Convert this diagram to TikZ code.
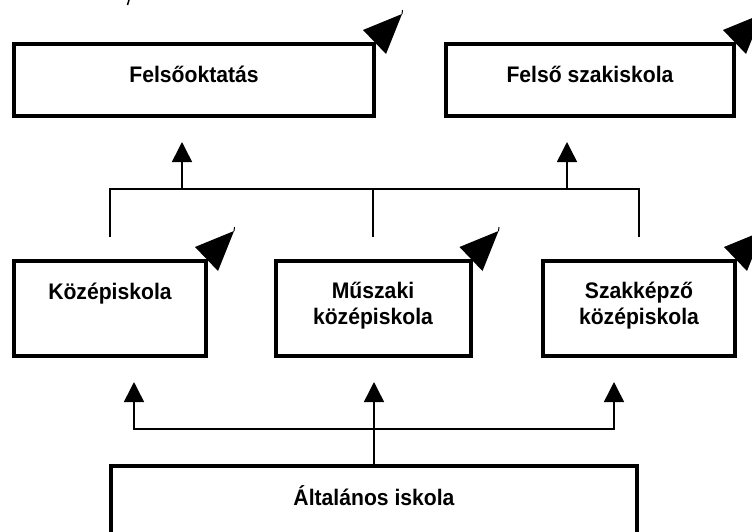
\documentclass[tikz,border=0pt]{standalone}
\usepackage{fontspec}
\setmainfont{Liberation Sans}
\newfontfamily\boxfont[FakeStretch=0.94]{Liberation Sans}
\usetikzlibrary{arrows.meta}

% filled wedge sitting on the top-right corner of a box
\newcommand\cornerflag[1]{%
  \fill ([shift={(-11,-14)}]#1) -- ([shift={(28,-30)}]#1) -- ([shift={(12,10)}]#1) -- cycle;
  \draw[line width=1pt] ([shift={(28,-30)}]#1) -- ++(0.5,-4);
}

\begin{document}
\begin{tikzpicture}[x=1pt,y=-1pt,
  box/.style={draw,line width=4pt,inner sep=0pt,outer sep=0pt,minimum width=#1},
  lbl/.style={inner sep=0pt,font=\boxfont\fontsize{22.5}{26}\selectfont\bfseries,align=center},
  conn/.style={line width=1.5pt},
  arr/.style={line width=1.5pt,-{Triangle[length=20pt,width=20pt]}}
]
\useasboundingbox (0,0) rectangle (752,531);
\clip (0,0) rectangle (752,531);

% boxes
\node[box=360,minimum height=72] (fo) at (194,80) {};
\node[box=288,minimum height=72] (fsz) at (590,80) {};
\node[box=192,minimum height=95] (ko) at (110,308.5) {};
\node[box=195,minimum height=95] (mu) at (373,308.5) {};
\node[box=192,minimum height=95] (sz) at (639,308.5) {};
\node[box=526,minimum height=120] (alt) at (374,526) {};

% labels
\node[lbl,anchor=base] (fot) at (194,82) {Felsőoktatás};
\node[lbl,anchor=base] (fszt) at (590,82) {Felső szakiskola};
\node[lbl,anchor=base] (kot) at (110,299) {Középiskola};
\node[lbl] (mut) at (373,306) {Műszaki\\középiskola};
\node[lbl] (szt) at (639,306) {Szakképző\\középiskola};
\node[lbl,anchor=base] (altt) at (374,505) {Általános iskola};

% corner wedges
\cornerflag{fo.north east}
\cornerflag{fsz.north east}
\cornerflag{ko.north east}
\cornerflag{mu.north east}
\cornerflag{sz.north east}
\draw[line width=1.5pt] (129,0) -- (127.5,5);

% upper connectors: middle row to the top boxes
\coordinate (topbar) at (374,189);
\draw[conn] ([yshift=24pt]ko.north) |- (topbar) -| ([yshift=24pt]sz.north);
\draw[conn] ([yshift=24pt]mu.north) -- (mu.north |- topbar);
\draw[arr] ([xshift=-12pt]fo.south |- topbar) -- ([xshift=-12pt,yshift=-26pt]fo.south);
\draw[arr] ([xshift=-23pt]fsz.south |- topbar) -- ([xshift=-23pt,yshift=-26pt]fsz.south);

% lower connectors: bottom box to the middle row
\coordinate (lowbar) at (374,429);
\draw[arr] (alt.north) -- ([yshift=-26pt]mu.south -| alt.north);
\draw[arr] (lowbar) -| ([xshift=24pt,yshift=-26pt]ko.south);
\draw[arr] (lowbar) -| ([xshift=-25pt,yshift=-26pt]sz.south);
\end{tikzpicture}
\end{document}
